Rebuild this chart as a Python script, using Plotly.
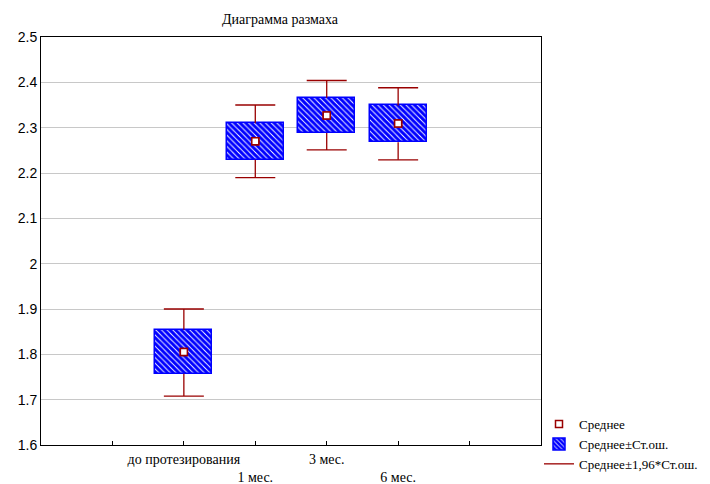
import plotly.graph_objects as go

categories = ["до протезирования", "1 мес.", "3 мес.", "6 мес."]
tick_labels = ["до протезирования", "<br>1 мес.", "3 мес.", "<br>6 мес."]
means = [1.805, 2.270, 2.327, 2.309]
se_low = [1.757, 2.229, 2.288, 2.268]
se_high = [1.854, 2.310, 2.366, 2.349]
ci_low = [1.708, 2.190, 2.251, 2.229]
ci_high = [1.900, 2.350, 2.404, 2.388]
y_ticks = [1.6, 1.7, 1.8, 1.9, 2.0, 2.1, 2.2, 2.3, 2.4, 2.5]

xpos = list(range(1, len(categories) + 1))
cap = 0.28
red = "#990000"
blue = "#0000FF"

fig = go.Figure()

# whiskers built from data
wx, wy = [], []
for x, bl, bh, cl, ch in zip(xpos, se_low, se_high, ci_low, ci_high):
    wx += [x, x, None, x - cap, x + cap, None, x, x, None, x - cap, x + cap, None]
    wy += [bh, ch, None, ch, ch, None, bl, cl, None, cl, cl, None]

mean_marker = dict(symbol="square", size=7, color="white", line=dict(color=red, width=1.5))

fig.add_trace(go.Scatter(
    x=xpos, y=means, mode="markers", name="Среднее",
    marker=mean_marker, legendrank=1,
))
fig.add_trace(go.Bar(
    x=xpos, y=[h - l for h, l in zip(se_high, se_low)], base=se_low, width=0.8,
    name="Среднее±Ст.ош.",
    marker=dict(color="white", line=dict(color=blue, width=1.5),
                pattern=dict(shape="\\", fgcolor=blue, bgcolor="white", size=4,
                             solidity=0.78, fgopacity=1)),
    legendrank=2,
))
fig.add_trace(go.Scatter(
    x=wx, y=wy, mode="lines", name="Среднее±1,96*Ст.ош.",
    line=dict(color=red, width=1.3), legendrank=3,
))
fig.add_trace(go.Scatter(
    x=xpos, y=means, mode="markers", showlegend=False, marker=mean_marker,
))

# page body has an 8px margin, so the figure is 8px smaller and margins shifted
fig.update_layout(
    width=702, height=476,
    margin=dict(l=33, r=169, t=29, b=39, autoexpand=False),
    paper_bgcolor="white", plot_bgcolor="white",
    showlegend=True,
    legend=dict(x=0.996, y=0.088, xanchor="left", yanchor="top",
                font=dict(family="Liberation Serif", size=13, color="black"),
                tracegroupgap=0, itemwidth=30, bgcolor="rgba(0,0,0,0)"),
    title=dict(text="Диаграмма размаха", x=0.478, xref="paper", xanchor="center",
               y=1, yref="container", yanchor="top", pad=dict(t=6),
               font=dict(family="Liberation Serif", size=14, color="black"),
               automargin=False),
    bargap=0,
)
fig.update_xaxes(
    range=[-1, 6], tickvals=[0] + xpos + [5], ticktext=[""] + tick_labels + [""],
    tickangle=0, automargin=False, ticklabelstandoff=1,
    ticks="inside", ticklen=4, tickcolor="black",
    showline=True, linecolor="black", linewidth=1, mirror=True,
    showgrid=False, zeroline=False,
    tickfont=dict(family="Liberation Serif", size=14, color="black"),
)
fig.update_yaxes(
    range=[1.6, 2.5], tickvals=y_ticks, ticktext=[("%g" % v) for v in y_ticks],
    automargin=False,
    ticks="", showline=True, linecolor="black", linewidth=1, mirror=True,
    showgrid=True, gridcolor="#c8c8c8", gridwidth=1, zeroline=False,
    tickfont=dict(family="Liberation Sans", size=14, color="black"),
)

fig.write_html("out.html")
